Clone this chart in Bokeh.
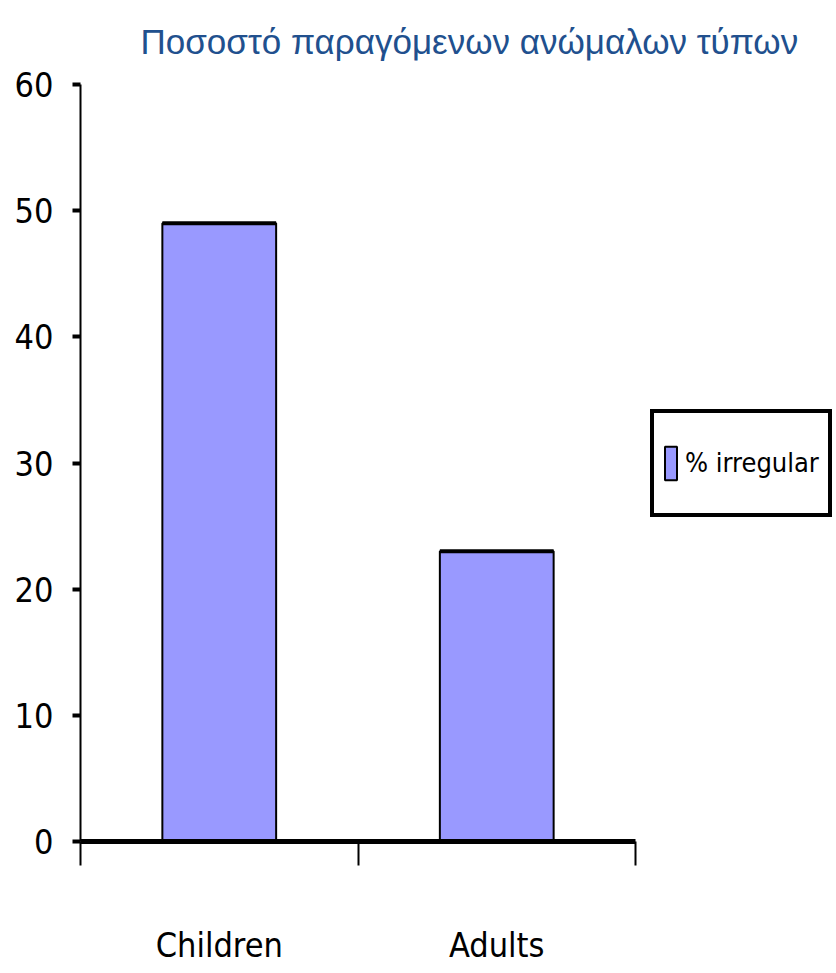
from bokeh.plotting import figure
from bokeh.models import (Range1d, LinearAxis, FixedTicker, Legend, LegendItem, Title)
from bokeh.embed import file_html
from bokeh.resources import INLINE

# ---- data ----
title_text = "Ποσοστό παραγόμενων ανώμαλων τύπων"
categories = ["Children", "Adults"]
irregular_pct = [49, 23]
series_name = "% irregular"
y_ticks = [0, 10, 20, 30, 40, 50, 60]

COND = "DejaVu Sans Condensed"
BAR_COLOR = "#9999FF"
TITLE_COLOR = "#21508E"

x_centers = [i + 0.5 for i in range(len(categories))]
x_bounds = list(range(len(categories) + 1))
bar_w = 0.41
x_left = [x - bar_w / 2 for x in x_centers]
x_right = [x + bar_w / 2 for x in x_centers]

p = figure(frame_width=555, frame_height=757, output_backend="svg", toolbar_location=None,
           x_range=Range1d(0, len(categories)), y_range=Range1d(y_ticks[0], y_ticks[-1]),
           min_border_left=80, min_border_right=201, min_border_top=84, min_border_bottom=132,
           x_axis_type=None, y_axis_type=None)
p.outline_line_color = None
p.xgrid.visible = False
p.ygrid.visible = False
p.background_fill_color = "white"
p.border_fill_color = "white"

bars = p.vbar(x=x_centers, top=irregular_pct, width=bar_w, fill_color=BAR_COLOR,
              line_color="black", line_width=2)
p.segment(x0=x_left, x1=x_right, y0=irregular_pct, y1=irregular_pct,
          line_color="black", line_width=4)

# y axis
yax = LinearAxis(ticker=FixedTicker(ticks=y_ticks))
yax.axis_line_width = 2
yax.major_tick_line_width = 4
yax.major_tick_out = 8
yax.major_tick_in = 0
yax.minor_tick_line_color = None
yax.major_label_standoff = 19
yax.major_label_text_font = COND
yax.major_label_text_font_size = "34px"
yax.major_label_text_color = "black"
p.add_layout(yax, "left")

# x axis with ticks at category boundaries
xax = LinearAxis(ticker=FixedTicker(ticks=x_bounds))
xax.axis_line_width = 5
xax.major_tick_line_width = 2
xax.major_tick_out = 24
xax.major_tick_in = 0
xax.minor_tick_line_color = None
xax.major_label_standoff = 0
xax.major_label_text_font_size = "0px"
xax.major_label_overrides = {b: "" for b in x_bounds}
p.add_layout(xax, "below")

# category labels
xlab = LinearAxis(ticker=FixedTicker(ticks=x_centers))
xlab.axis_line_color = None
xlab.major_tick_line_color = None
xlab.minor_tick_line_color = None
xlab.major_tick_out = 0
xlab.major_tick_in = 0
xlab.major_label_standoff = 59
xlab.major_label_overrides = {x: c for x, c in zip(x_centers, categories)}
xlab.major_label_text_font = COND
xlab.major_label_text_font_size = "34px"
xlab.major_label_text_color = "black"
p.add_layout(xlab, "below")

# title
t = Title(text=title_text, align="left", offset=60, standoff=43, vertical_align="top",
          text_font="Liberation Sans",
          text_font_size="35px", text_font_style="normal", text_color=TITLE_COLOR)
p.add_layout(t, "above")

legend = Legend(items=[LegendItem(label=series_name, renderers=[bars])],
                location="center_left", margin=15, padding=9,
                border_line_color="black", border_line_width=4, border_line_alpha=1.0,
                glyph_width=15, glyph_height=42, label_standoff=7, label_height=82,
                label_text_font=COND, label_text_font_size="27px",
                label_text_color="black", background_fill_color="white",
                background_fill_alpha=1.0, spacing=0)
p.add_layout(legend, "right")

open("out.html", "w").write(file_html(p, INLINE))
